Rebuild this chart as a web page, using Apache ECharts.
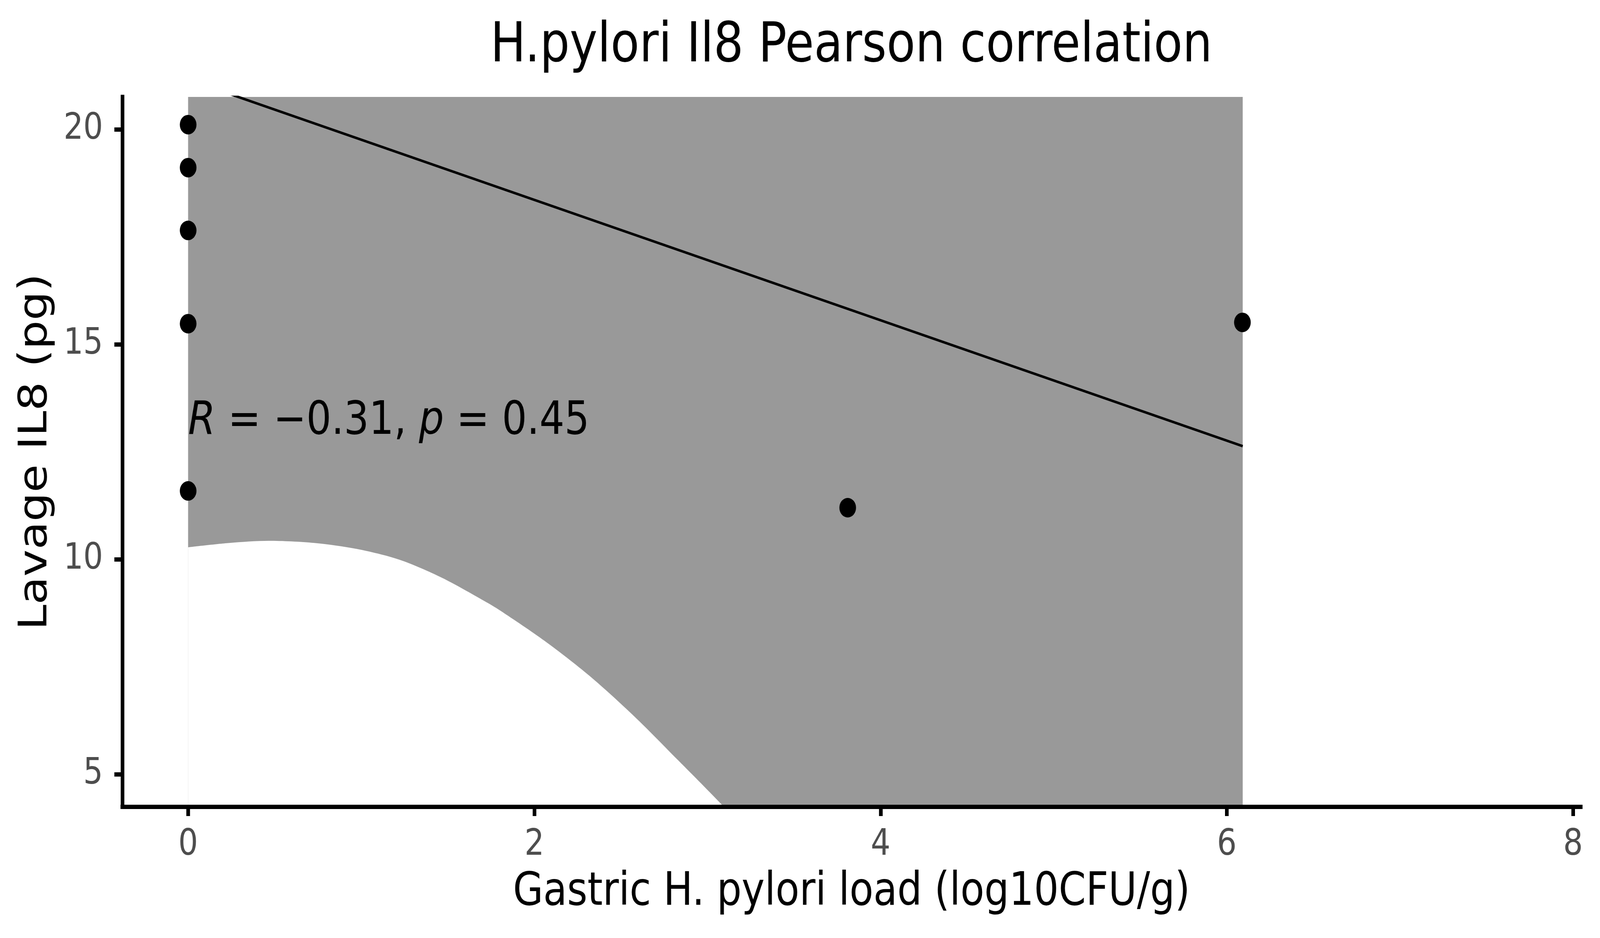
<!DOCTYPE html>
<html>
<head>
<meta charset="utf-8">
<script src="https://cdn.jsdelivr.net/npm/echarts@6/dist/echarts.min.js"></script>
<style>
  html, body { margin: 0; padding: 0; background: #fff; overflow: hidden; }
  #chart { width: 4800px; height: 2400px; transform-origin: 0 0; }
</style>
</head>
<body>
<div id="chart"></div>
<script>
// Tick values
const xTicks = [0, 2, 4, 6, 8];
const yTicks = [5, 10, 15, 20];

// Observations
const pointX = [0, 0, 0, 0, 0, 3.81, 6.09];
const pointY = [20.11, 19.11, 17.65, 15.48, 11.59, 11.20, 15.51];

// Fitted line (ends)
const fitX = [0, 6.092];
const fitY = [21.16, 12.63];

// Confidence band (upper edge lies above the panel, lower edge leaves it near x = 3.1)
const ribbonX = [0, 0.238, 0.465, 0.729, 0.974, 1.22, 1.466, 1.711, 1.802, 2.06, 2.318, 2.576, 2.834, 3.1, 3.5, 4, 4.5, 5, 5.5, 6.092];
const ribbonLow = [10.28, 10.38, 10.43, 10.38, 10.24, 9.99, 9.57, 9.03, 8.81, 8.10, 7.29, 6.35, 5.31, 4.22, 2.5, 0.2, -2.2, -4.7, -7.3, -10.4];
const ribbonHigh = [32.1, 31.5, 31.0, 30.3, 29.6, 29.0, 28.4, 27.9, 27.7, 27.2, 26.8, 26.5, 26.2, 25.9, 25.6, 25.4, 25.2, 25.1, 25.1, 25.2];

const titleText = 'H.pylori Il8 Pearson correlation';
const xName = 'Gastric H. pylori load (log10CFU/g)';
const yName = 'Lavage IL8 (pg)';
const annX = 0;
const annY = 13.2;

const FONT = 'DejaVu Sans';
const el = document.getElementById('chart');
// the chart is laid out at 4800x2400 and squeezed into whatever viewport we get
el.style.transform = 'scale(' + (window.innerWidth / 4800) + ',' + (window.innerHeight / 2400) + ')';
const chart = echarts.init(el);

const axisCommon = {
    type: 'value',
    z: 10,
    splitLine: { show: false },
    axisLine: { show: true, onZero: false, lineStyle: { color: '#000', width: 11, cap: 'square' } },
    axisTick: { show: true, length: 24, lineStyle: { color: '#000', width: 11 } },
    nameLocation: 'middle',
    nameTextStyle: { fontFamily: FONT, fontSize: 117, color: '#000' }
};

chart.setOption({
    animation: false,
    backgroundColor: '#fff',
    grid: { left: 367, right: 58, top: 248, bottom: 336 },
    xAxis: Object.assign({}, axisCommon, {
        min: -0.38,
        max: 8.044,
        name: xName,
        nameGap: 162,
        axisTick: Object.assign({}, axisCommon.axisTick, { customValues: xTicks }),
        axisLabel: { customValues: xTicks, fontFamily: FONT, fontSize: 93, color: '#4D4D4D', margin: 52 }
    }),
    yAxis: Object.assign({}, axisCommon, {
        min: 4.245,
        max: 20.755,
        name: yName,
        nameGap: 200,
        axisTick: Object.assign({}, axisCommon.axisTick, { customValues: yTicks }),
        axisLabel: { customValues: yTicks, fontFamily: FONT, fontSize: 93, color: '#4D4D4D', margin: 58 }
    }),
    series: [
        {
            // grey band: filled from the upper edge down to the bottom of the panel
            name: 'ciHigh',
            type: 'line',
            symbol: 'none',
            z: 1,
            lineStyle: { width: 0, opacity: 0 },
            areaStyle: { color: '#999999', opacity: 1, origin: 'start' },
            data: ribbonX.map((x, i) => [x, ribbonHigh[i]])
        },
        {
            // clear out everything below the lower edge
            name: 'ciLow',
            type: 'line',
            symbol: 'none',
            smooth: 0.3,
            z: 2,
            lineStyle: { width: 0, opacity: 0 },
            areaStyle: { color: '#ffffff', opacity: 1, origin: 'start' },
            data: ribbonX.map((x, i) => [x, ribbonLow[i]])
        },
        {
            name: 'fit',
            type: 'line',
            symbol: 'none',
            z: 3,
            lineStyle: { color: '#000', width: 6.5 },
            data: fitX.map((x, i) => [x, fitY[i]])
        },
        {
            name: 'points',
            type: 'scatter',
            symbol: 'circle',
            symbolSize: 50,
            z: 4,
            itemStyle: { color: '#000', opacity: 1 },
            data: pointX.map((x, i) => [x, pointY[i]])
        }
    ]
});

// texts placed after layout so the annotation can use the axis scales
const annPos = chart.convertToPixel({ gridIndex: 0 }, [annX, annY]);
chart.setOption({
    graphic: [
        {
            type: 'text',
            x: 2554,
            y: 120,
            style: {
                text: titleText,
                fontFamily: FONT,
                fontSize: 141,
                fill: '#000',
                textAlign: 'center',
                textVerticalAlign: 'middle'
            }
        },
        {
            type: 'text',
            x: annPos[0],
            y: annPos[1],
            z: 20,
            style: {
                text: '{i|R} = −0.31, {i|p} = 0.45',
                fontFamily: FONT,
                fontSize: 118,
                fill: '#000',
                textAlign: 'left',
                textVerticalAlign: 'middle',
                rich: {
                    i: { fontFamily: FONT, fontSize: 118, fontStyle: 'italic', fill: '#000' }
                }
            }
        }
    ]
});
</script>
</body>
</html>
